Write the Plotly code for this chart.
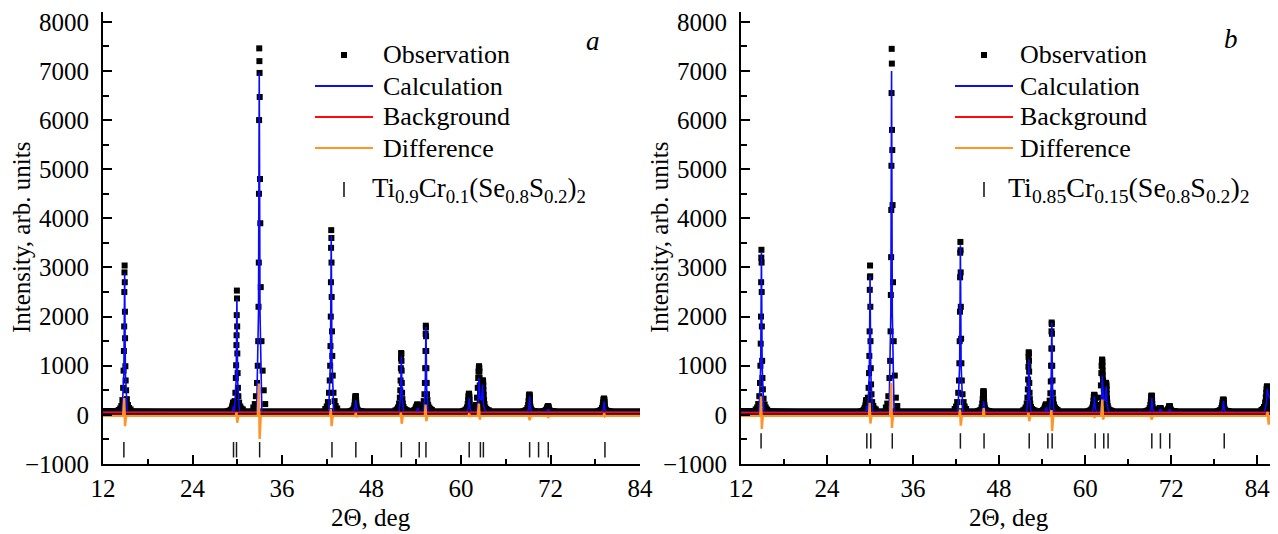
import plotly.graph_objects as go

# ---------------- data ----------------
# angular offsets (deg) of the sampled observation points around each reflection
OFFS = [-0.8, -0.6, -0.45, -0.3, -0.2, -0.14, -0.1, -0.06, -0.04, -0.02, 0.0,
        0.02, 0.04, 0.06, 0.1, 0.14, 0.2, 0.3, 0.45, 0.6, 0.8]

# ---- panel a : Ti0.9Cr0.1(Se0.8S0.2)2 ----
a_peak_pos = [14.9, 29.5, 29.95, 32.95, 42.6, 45.9, 52.0, 54.2, 55.3, 61.1,
              62.45, 62.95, 69.2, 71.7, 79.2]
a_peak_counts = [
    [100, 130, 180, 300, 550, 900, 1300, 1800, 2500, 2900, 3040, 2700, 2100, 1560, 990, 700, 500, 320, 200, 140, 110],
    [70, 80, 90, 110, 150, 180, 210, 230, 240, 250, 250, 240, 230, 200, 170, 140, 120, 100, 90, 80, 70],
    [100, 120, 170, 280, 450, 750, 1010, 1420, 1620, 2030, 2530, 2370, 1800, 1250, 850, 550, 380, 250, 170, 130, 110],
    [150, 220, 380, 650, 1000, 1500, 2200, 3100, 4500, 6000, 7460, 7200, 6960, 6470, 4800, 3900, 2600, 1500, 900, 500, 220],
    [120, 170, 260, 450, 700, 1000, 1400, 2000, 2700, 3400, 3760, 3600, 3100, 2400, 1700, 1200, 800, 450, 280, 180, 130],
    [70, 80, 95, 130, 190, 260, 320, 360, 380, 380, 370, 340, 290, 230, 170, 130, 110, 90, 80, 75, 70],
    [90, 110, 150, 230, 350, 500, 700, 950, 1150, 1260, 1240, 1100, 900, 650, 450, 320, 230, 160, 120, 100, 90],
    [70, 80, 100, 130, 160, 185, 200, 210, 210, 205, 200, 190, 170, 150, 130, 110, 100, 90, 80, 75, 70],
    [100, 130, 180, 280, 420, 650, 950, 1300, 1650, 1815, 1780, 1600, 1300, 950, 650, 420, 300, 200, 150, 120, 100],
    [80, 90, 110, 150, 220, 300, 370, 410, 433, 425, 400, 360, 300, 230, 170, 130, 110, 95, 85, 80, 75],
    [100, 130, 200, 350, 550, 750, 880, 950, 990, 980, 950, 880, 750, 600, 450, 350, 280, 200, 150, 120, 100],
    [150, 200, 280, 400, 500, 600, 650, 690, 700, 700, 690, 660, 600, 500, 400, 300, 220, 150, 120, 100, 90],
    [75, 85, 100, 140, 200, 280, 350, 395, 413, 410, 395, 360, 300, 230, 170, 130, 110, 90, 80, 75, 70],
    [70, 75, 85, 100, 120, 140, 160, 170, 175, 175, 170, 160, 145, 125, 110, 95, 85, 80, 75, 70, 70],
    [75, 85, 100, 140, 190, 250, 300, 320, 330, 330, 320, 300, 260, 210, 160, 120, 100, 85, 80, 75, 70],
]
a_obs_base = [(12, 70), (20, 65), (84, 65)]
a_calc = [(12, 55), (14.55, 55), (14.8, 860), (14.9, 2880), (15.0, 860), (15.25, 55),
          (29.35, 55), (29.5, 180), (29.62, 70), (29.85, 700), (29.95, 2360), (30.05, 700), (30.3, 55),
          (32.6, 60), (32.85, 2100), (32.95, 6960), (33.05, 2100), (33.3, 60),
          (42.25, 55), (42.5, 1100), (42.6, 3650), (42.7, 1100), (42.95, 55),
          (45.6, 55), (45.8, 150), (45.9, 300), (46.0, 150), (46.2, 55),
          (51.7, 55), (51.9, 400), (52.0, 1190), (52.1, 400), (52.3, 55),
          (54.0, 55), (54.2, 140), (54.4, 55),
          (55.0, 55), (55.2, 540), (55.3, 1790), (55.4, 540), (55.6, 55),
          (60.8, 55), (61.0, 140), (61.1, 345), (61.2, 140), (61.4, 55),
          (62.1, 55), (62.3, 250), (62.4, 750), (62.55, 330), (62.75, 300), (62.9, 615), (63.0, 220), (63.25, 55),
          (68.9, 55), (69.1, 140), (69.2, 380), (69.3, 140), (69.5, 55),
          (71.5, 55), (71.7, 120), (71.9, 55),
          (78.9, 55), (79.1, 120), (79.2, 277), (79.3, 120), (79.5, 55), (84, 55)]
a_bg = [(12, 50), (84, 50)]
a_diff = [(12, -20), (14.7, -20), (14.85, 345), (14.95, -230), (15.1, -20),
          (29.8, -20), (29.9, 50), (30.0, -160), (30.15, -20),
          (32.75, -20), (32.9, 640), (33.0, -490), (33.15, -20),
          (42.45, -20), (42.55, 120), (42.65, -230), (42.8, -20),
          (45.8, -20), (45.9, 40), (46.0, -50), (46.1, -20),
          (51.85, -20), (51.95, 45), (52.05, -180), (52.2, -20),
          (55.15, -20), (55.25, 210), (55.35, -130), (55.5, -20),
          (61.0, -20), (61.1, 30), (61.2, -40), (61.3, -20),
          (62.25, -20), (62.4, 230), (62.5, -95), (62.65, -20),
          (69.05, -20), (69.2, -110), (69.35, -20),
          (71.6, -20), (71.7, -60), (71.8, -20),
          (79.1, -20), (79.2, 30), (79.3, -30), (79.4, -20), (84, -20)]
a_refl = [14.8, 29.5, 29.9, 33.0, 42.7, 45.9, 52.0, 54.4, 55.3, 61.1, 62.6, 63.0,
          69.2, 70.4, 71.7, 79.3]
a_phase = "Ti<sub>0.9</sub>Cr<sub>0.1</sub>(Se<sub>0.8</sub>S<sub>0.2</sub>)<sub>2</sub>"

# ---- panel b : Ti0.85Cr0.15(Se0.8S0.2)2 ----
b_scan_end = 85.95
b_peak_pos = [14.85, 29.55, 30.0, 33.0, 42.6, 45.85, 52.15, 54.6, 55.35, 61.3,
              62.4, 62.95, 69.3, 70.5, 71.8, 79.3, 85.4]
b_peak_counts = [
    [110, 150, 220, 380, 650, 1000, 1450, 2000, 2700, 3200, 3360, 3100, 2500, 1800, 1100, 750, 520, 330, 210, 150, 110],
    [70, 80, 100, 140, 190, 240, 280, 300, 300, 290, 270, 240, 200, 160, 130, 110, 95, 85, 80, 75, 70],
    [110, 140, 200, 350, 550, 850, 1200, 1700, 2545, 2800, 3040, 2820, 2200, 1500, 950, 620, 420, 260, 180, 130, 110],
    [150, 230, 380, 750, 1100, 1700, 2440, 3210, 4170, 5070, 6550, 7450, 7150, 5800, 5390, 4270, 2700, 1500, 800, 350, 180],
    [120, 170, 260, 450, 700, 1050, 1500, 2100, 2800, 3300, 3520, 3350, 2900, 2200, 1550, 1050, 700, 420, 260, 170, 120],
    [75, 85, 100, 150, 230, 320, 400, 450, 480, 480, 460, 420, 350, 270, 200, 150, 120, 95, 85, 80, 75],
    [90, 110, 150, 230, 350, 520, 720, 980, 1180, 1275, 1250, 1100, 880, 650, 450, 320, 230, 160, 120, 100, 90],
    [70, 80, 100, 130, 160, 185, 200, 210, 210, 205, 200, 190, 170, 150, 130, 110, 100, 90, 80, 75, 70],
    [100, 130, 180, 290, 440, 680, 1000, 1350, 1700, 1880, 1850, 1650, 1350, 1000, 700, 450, 320, 210, 150, 120, 100],
    [80, 90, 110, 150, 210, 290, 360, 400, 410, 405, 390, 350, 290, 220, 165, 125, 105, 90, 85, 80, 75],
    [100, 130, 200, 350, 600, 850, 1000, 1080, 1125, 1120, 1080, 1000, 900, 800, 700, 620, 520, 400, 250, 150, 100],
    [150, 220, 320, 450, 550, 620, 650, 650, 650, 640, 620, 580, 520, 430, 330, 250, 180, 130, 100, 90, 80],
    [75, 85, 100, 140, 200, 270, 340, 375, 390, 390, 380, 350, 290, 220, 160, 125, 105, 90, 80, 75, 70],
    [70, 72, 80, 95, 110, 125, 135, 140, 140, 140, 135, 125, 115, 100, 90, 80, 75, 72, 70, 70, 70],
    [70, 75, 85, 100, 120, 140, 160, 170, 175, 175, 170, 160, 145, 125, 110, 95, 85, 80, 75, 70, 70],
    [75, 85, 100, 140, 190, 245, 290, 305, 310, 310, 300, 280, 240, 195, 150, 115, 95, 85, 80, 75, 70],
    [100, 120, 160, 250, 360, 450, 520, 560, 580, 575, 560, 520, 460, 400, 330, 260, 190, 130, 100, 90, 80],
]
b_obs_base = [(12, 70), (20, 65), (85.95, 65)]
b_calc = [(12, 50), (14.5, 50), (14.75, 990), (14.85, 3300), (14.95, 990), (15.2, 50),
          (29.4, 50), (29.55, 180), (29.68, 80), (29.9, 850), (30.0, 2830), (30.1, 850), (30.35, 50),
          (32.65, 60), (32.9, 2100), (33.0, 7000), (33.1, 2100), (33.35, 60),
          (42.25, 50), (42.5, 1030), (42.6, 3450), (42.7, 1030), (42.95, 50),
          (45.55, 50), (45.75, 130), (45.85, 275), (45.95, 130), (46.15, 50),
          (51.85, 50), (52.05, 370), (52.15, 1125), (52.25, 370), (52.45, 50),
          (54.4, 50), (54.6, 155), (54.8, 50),
          (55.05, 50), (55.25, 560), (55.35, 1880), (55.45, 560), (55.65, 50),
          (61.0, 50), (61.2, 150), (61.3, 380), (61.4, 150), (61.6, 50),
          (62.1, 50), (62.3, 260), (62.4, 800), (62.55, 330), (62.75, 280), (62.95, 580), (63.05, 220), (63.3, 50),
          (69.0, 50), (69.2, 130), (69.3, 345), (69.4, 130), (69.6, 50),
          (70.3, 50), (70.5, 120), (70.7, 50),
          (71.6, 50), (71.8, 110), (72.0, 50),
          (79.0, 50), (79.2, 120), (79.3, 280), (79.4, 120), (79.6, 50),
          (85.0, 50), (85.3, 250), (85.4, 530), (85.5, 420), (85.95, 300)]
b_bg = [(12, 45), (85.95, 45)]
b_diff = [(12, -20), (14.7, -20), (14.8, 380), (14.9, -285), (15.05, -20),
          (29.85, -20), (29.95, 245), (30.05, -175), (30.2, -20),
          (32.8, -20), (32.95, 650), (33.05, -265), (33.2, -20),
          (42.45, -20), (42.55, 110), (42.65, -220), (42.8, -20),
          (45.75, -20), (45.85, 140), (45.95, -40), (46.05, -20),
          (52.0, -20), (52.1, 40), (52.2, -130), (52.35, -20),
          (55.2, -20), (55.3, 100), (55.4, -330), (55.55, -20),
          (61.2, -20), (61.3, -60), (61.4, -20),
          (62.25, -20), (62.4, 310), (62.5, -95), (62.65, -20),
          (69.15, -20), (69.3, -95), (69.45, -20),
          (85.3, -20), (85.45, 60), (85.6, -200), (85.75, -20), (85.95, -20)]
b_refl = [14.8, 29.55, 30.1, 33.1, 42.6, 45.9, 52.2, 54.8, 55.4, 61.4, 62.6, 63.2,
          69.3, 70.5, 71.8, 79.4]
b_phase = "Ti<sub>0.85</sub>Cr<sub>0.15</sub>(Se<sub>0.8</sub>S<sub>0.2</sub>)<sub>2</sub>"

series_names = ["Observation", "Calculation", "Background", "Difference"]

# ---------------- styling ----------------
FONT = 'Liberation Serif, "Times New Roman", Times, serif'
BLUE, RED, ORANGE, BLACK = "#0a0aff", "#ff0a0a", "#ff9428", "#000000"

# page is shown with the browser's default 8 px body margin; the figure is sized to fit
PAGE_OFF = 8
FIG_W, FIG_H = 1278 - PAGE_OFF, 534 - PAGE_OFF
M_L, M_R, M_T, M_B = 95, 0, 4, 70
PLOT_W = FIG_W - M_L - M_R
PLOT_H = FIG_H - M_T - M_B


def px_x(px):   # page pixel -> paper x
    return (px - PAGE_OFF - M_L) / PLOT_W


def px_y(py):   # page pixel -> paper y
    return (FIG_H - M_B + PAGE_OFF - py) / PLOT_H


def obs_points(pos, counts, end=None):
    xs, ys = [], []
    for c, vals in zip(pos, counts):
        for o, v in zip(OFFS, vals):
            x = c + o
            if end is None or x <= end:
                xs.append(x)
                ys.append(v)
    return xs, ys


def split(pairs):
    return [p[0] for p in pairs], [p[1] for p in pairs]


fig = go.Figure()


def add_panel(xa, ya, pos, counts, base, calc, bg, diff, refl, refl_level, end=None):
    bx, by = split(base)
    fig.add_trace(go.Scatter(x=bx, y=by, mode="lines", line=dict(color=BLACK, width=7),
                             hoverinfo="skip", xaxis=xa, yaxis=ya))
    ox, oy = obs_points(pos, counts, end)
    fig.add_trace(go.Scatter(x=ox, y=oy, mode="markers", name=series_names[0],
                             marker=dict(symbol="square", size=6, color=BLACK), xaxis=xa, yaxis=ya))
    cx, cy = split(calc)
    fig.add_trace(go.Scatter(x=cx, y=cy, mode="lines", name=series_names[1],
                             line=dict(color=BLUE, width=1.6), xaxis=xa, yaxis=ya))
    gx, gy = split(bg)
    fig.add_trace(go.Scatter(x=gx, y=gy, mode="lines", name=series_names[2],
                             line=dict(color=RED, width=1.6), xaxis=xa, yaxis=ya))
    dx, dy = split(diff)
    fig.add_trace(go.Scatter(x=dx, y=dy, mode="lines", name=series_names[3],
                             line=dict(color=ORANGE, width=2.4), xaxis=xa, yaxis=ya))
    fig.add_trace(go.Scatter(x=refl, y=[refl_level] * len(refl), mode="markers",
                             marker=dict(symbol="line-ns", size=11, color="#1a1a1a",
                                         line=dict(width=1.5, color="#1a1a1a")),
                             xaxis=xa, yaxis=ya))


add_panel("x", "y", a_peak_pos, a_peak_counts, a_obs_base, a_calc, a_bg, a_diff, a_refl, -710)
add_panel("x2", "y2", b_peak_pos, b_peak_counts, b_obs_base, b_calc, b_bg, b_diff, b_refl, -530,
          end=b_scan_end)

axis_common = dict(showline=True, linewidth=2, linecolor=BLACK, ticks="inside", ticklen=9,
                   tickwidth=2, tickcolor=BLACK, showgrid=False, zeroline=False, mirror=False,
                   automargin=False, tickfont=dict(family=FONT, size=25, color=BLACK))
xcommon = dict(axis_common, tick0=12, dtick=12, ticklabelstandoff=1,
               minor=dict(ticks="inside", ticklen=5, tickwidth=2, tickcolor=BLACK, dtick=6))
ycommon = dict(axis_common, range=[-1000, 8200], tick0=0, dtick=1000, ticklabelstandoff=7,
               minor=dict(ticks="inside", ticklen=6, tickwidth=2, tickcolor=BLACK, dtick=500))

# ---- annotations (axis titles, panel letters, legend texts) and legend symbols ----
annotations = []
shapes = []
TXT = dict(family=FONT, size=25, color=BLACK)

for yx_px in (21, 659):
    annotations.append(dict(text="Intensity, arb. units", x=px_x(yx_px), y=px_y(238), textangle=-90,
                            xref="paper", yref="paper", showarrow=False, xanchor="center",
                            yanchor="middle", font=TXT))
for cx_px in (371, 1009):
    annotations.append(dict(text="2Θ, deg", x=px_x(cx_px), y=px_y(517), xref="paper", yref="paper",
                            showarrow=False, xanchor="center", yanchor="middle", font=TXT))
for letter, lx, ly in (("a", 593, 41), ("b", 1231, 39)):
    annotations.append(dict(text="<i>%s</i>" % letter, x=px_x(lx), y=px_y(ly), xref="paper",
                            yref="paper", showarrow=False, xanchor="center", yanchor="middle",
                            font=dict(family=FONT, size=27, color=BLACK)))

ROWS = [55, 86, 117, 148]
for sym_l, txt_l, ph_l, ph_size, phase in ((315, 381, 370, 27, a_phase),
                                           (955, 1018, 1006, 28, b_phase)):
    sym_c = (sym_l + sym_l + 58) / 2
    # observation square
    shapes.append(dict(type="rect", xref="paper", yref="paper",
                       x0=px_x(sym_c - 3), x1=px_x(sym_c + 3), y0=px_y(ROWS[0] + 3), y1=px_y(ROWS[0] - 3),
                       fillcolor=BLACK, line=dict(width=0)))
    for row, col in zip(ROWS[1:], (BLUE, RED, ORANGE)):
        shapes.append(dict(type="line", xref="paper", yref="paper", x0=px_x(sym_l), x1=px_x(sym_l + 58),
                           y0=px_y(row), y1=px_y(row), line=dict(color=col, width=2)))
    shapes.append(dict(type="line", xref="paper", yref="paper", x0=px_x(sym_c), x1=px_x(sym_c),
                       y0=px_y(182), y1=px_y(197), line=dict(color="#1a1a1a", width=1.6)))
    for row, name in zip(ROWS, series_names):
        annotations.append(dict(text=name, x=px_x(txt_l), y=px_y(row), xref="paper", yref="paper",
                                showarrow=False, xanchor="left", yanchor="middle",
                                font=dict(family=FONT, size=26, color=BLACK)))
    annotations.append(dict(text=phase, x=px_x(ph_l), y=px_y(190), xref="paper", yref="paper",
                            showarrow=False, xanchor="left", yanchor="middle",
                            font=dict(family=FONT, size=ph_size, color=BLACK)))

fig.update_layout(
    width=FIG_W, height=FIG_H,
    margin=dict(l=M_L, r=M_R, t=M_T, b=M_B, pad=0, autoexpand=False),
    paper_bgcolor="white", plot_bgcolor="white",
    font=dict(family=FONT, color=BLACK),
    showlegend=False,
    xaxis=dict(xcommon, domain=[0, 537 / PLOT_W], range=[12, 84], anchor="y"),
    yaxis=dict(ycommon, anchor="x"),
    xaxis2=dict(xcommon, domain=[1 - 537 / PLOT_W, 1.0], range=[12, 86.9], anchor="y2"),
    yaxis2=dict(ycommon, anchor="x2"),
    annotations=annotations,
    shapes=shapes,
)

fig.write_html("out.html")
